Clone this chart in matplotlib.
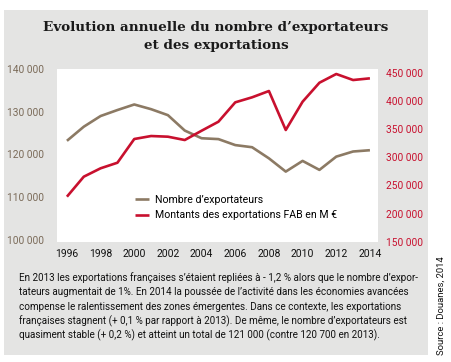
import matplotlib.pyplot as plt
from matplotlib.patches import Rectangle

years = list(range(1996, 2015))
nb_exportateurs = [123200, 126500, 129000, 130400, 131700, 130600, 129200, 125600, 123800, 123600,
                   122200, 121700, 119100, 116000, 118500, 116400, 119500, 120700, 121000]
montants = [229900, 265400, 280300, 290200, 332300, 337600, 336400, 330500, 347000, 363000,
            397400, 406300, 417500, 348300, 398500, 432200, 447700, 437000, 440000]

left_ticks = [100000, 110000, 120000, 130000, 140000]
right_ticks = [150000, 200000, 250000, 300000, 350000, 400000, 450000]
x_ticks = list(range(1996, 2015, 2))

BROWN = "#8c7a64"
RED = "#c8102e"
GREY_BG = "#e4e4e3"
NARROW = "Roboto"


def fmt(v):
    return f"{v:,}".replace(",", " ")


def main():
    W, H = 452, 362
    fig = plt.figure(figsize=(W / 100, H / 100), dpi=100)
    fig.patch.set_facecolor("white")

    # grey panel
    fig.patches.append(Rectangle((4 / W, 1 - 355 / H), 424 / W, 345 / H,
                                 transform=fig.transFigure, facecolor=GREY_BG,
                                 edgecolor="none", zorder=-5))

    fig.text(216 / W, 1 - 28 / H, "Evolution annuelle du nombre d\u2019exportateurs",
             ha="center", va="center", family="DejaVu Serif", weight="bold",
             fontsize=9.7, color="#1a1a1a")
    fig.text(216 / W, 1 - 45 / H, "et des exportations",
             ha="center", va="center", family="DejaVu Serif", weight="bold",
             fontsize=9.7, color="#1a1a1a")

    x0, x1, ytop, ybot = 57, 378, 69, 242
    ax = fig.add_axes([x0 / W, 1 - ybot / H, (x1 - x0) / W, (ybot - ytop) / H])
    ax.set_facecolor("white")
    for s in ax.spines.values():
        s.set_visible(False)

    l1, = ax.plot(years, nb_exportateurs, color=BROWN, lw=1.9, solid_capstyle="butt")
    ax.set_xlim(1995.41, 2014.48)
    ax.set_ylim(99530, 140000)
    ax.set_yticks(left_ticks)
    ax.set_yticklabels([fmt(v) for v in left_ticks], family=NARROW, fontsize=7.3, color="#7a6a58")
    ax.set_xticks(x_ticks)
    ax.set_xticklabels([str(y) for y in x_ticks], family=NARROW, fontsize=7.5, color="#111111")
    ax.tick_params(length=0, pad=5)
    ax.tick_params(axis="y", pad=9)

    ax2 = ax.twinx()
    for s in ax2.spines.values():
        s.set_visible(False)
    l2, = ax2.plot(years, montants, color=RED, lw=1.9, solid_capstyle="butt")
    ax2.set_ylim(149470, 456570)
    ax2.set_yticks(right_ticks)
    ax2.set_yticklabels([fmt(v) for v in right_ticks], family=NARROW, fontsize=7.3, color=RED)
    ax2.tick_params(length=0, pad=6)

    ax2.legend([l1, l2], ["Nombre d\u2019exportateurs", "Montants des exportations FAB en M \u20ac"],
               loc="lower left", bbox_to_anchor=(0.23, 0.1), frameon=False,
               prop={"family": NARROW, "size": 7.6}, handlelength=1.3,
               handletextpad=0.6, labelspacing=0.55, borderaxespad=0)

    para = ["En 2013 les exportations fran\u00e7aises s\u2019\u00e9taient repli\u00e9es \u00e0 - 1,2 % alors que le nombre d\u2019expor-",
            "tateurs augmentait de 1%. En 2014 la pouss\u00e9e de l\u2019activit\u00e9 dans les \u00e9conomies avanc\u00e9es",
            "compense le ralentissement des zones \u00e9mergentes. Dans ce contexte, les exportations",
            "fran\u00e7aises stagnent (+ 0,1 % par rapport \u00e0 2013). De m\u00eame, le nombre d\u2019exportateurs est",
            "quasiment stable (+ 0,2 %) et atteint un total de 121 000 (contre 120 700 en 2013)."]
    texts = []
    for i, line in enumerate(para):
        texts.append(fig.text(19 / W, 1 - (278 + i * 14.3) / H, line, ha="left", va="center",
                              family=NARROW, fontsize=8, color="#111111"))
    # shrink the paragraph so its first line spans the same width as in the reference
    r = fig.canvas.get_renderer()
    w0 = texts[0].get_window_extent(r).width
    size = 8 * 401 / w0
    for t in texts:
        t.set_fontsize(size)

    fig.text(441 / W, 1 - 306 / H, "Source : Douanes, 2014", rotation=90,
             ha="center", va="center", family=NARROW, fontsize=6.8, color="#111111")

    fig.savefig("out.png", dpi=100)


if __name__ == "__main__":
    main()
